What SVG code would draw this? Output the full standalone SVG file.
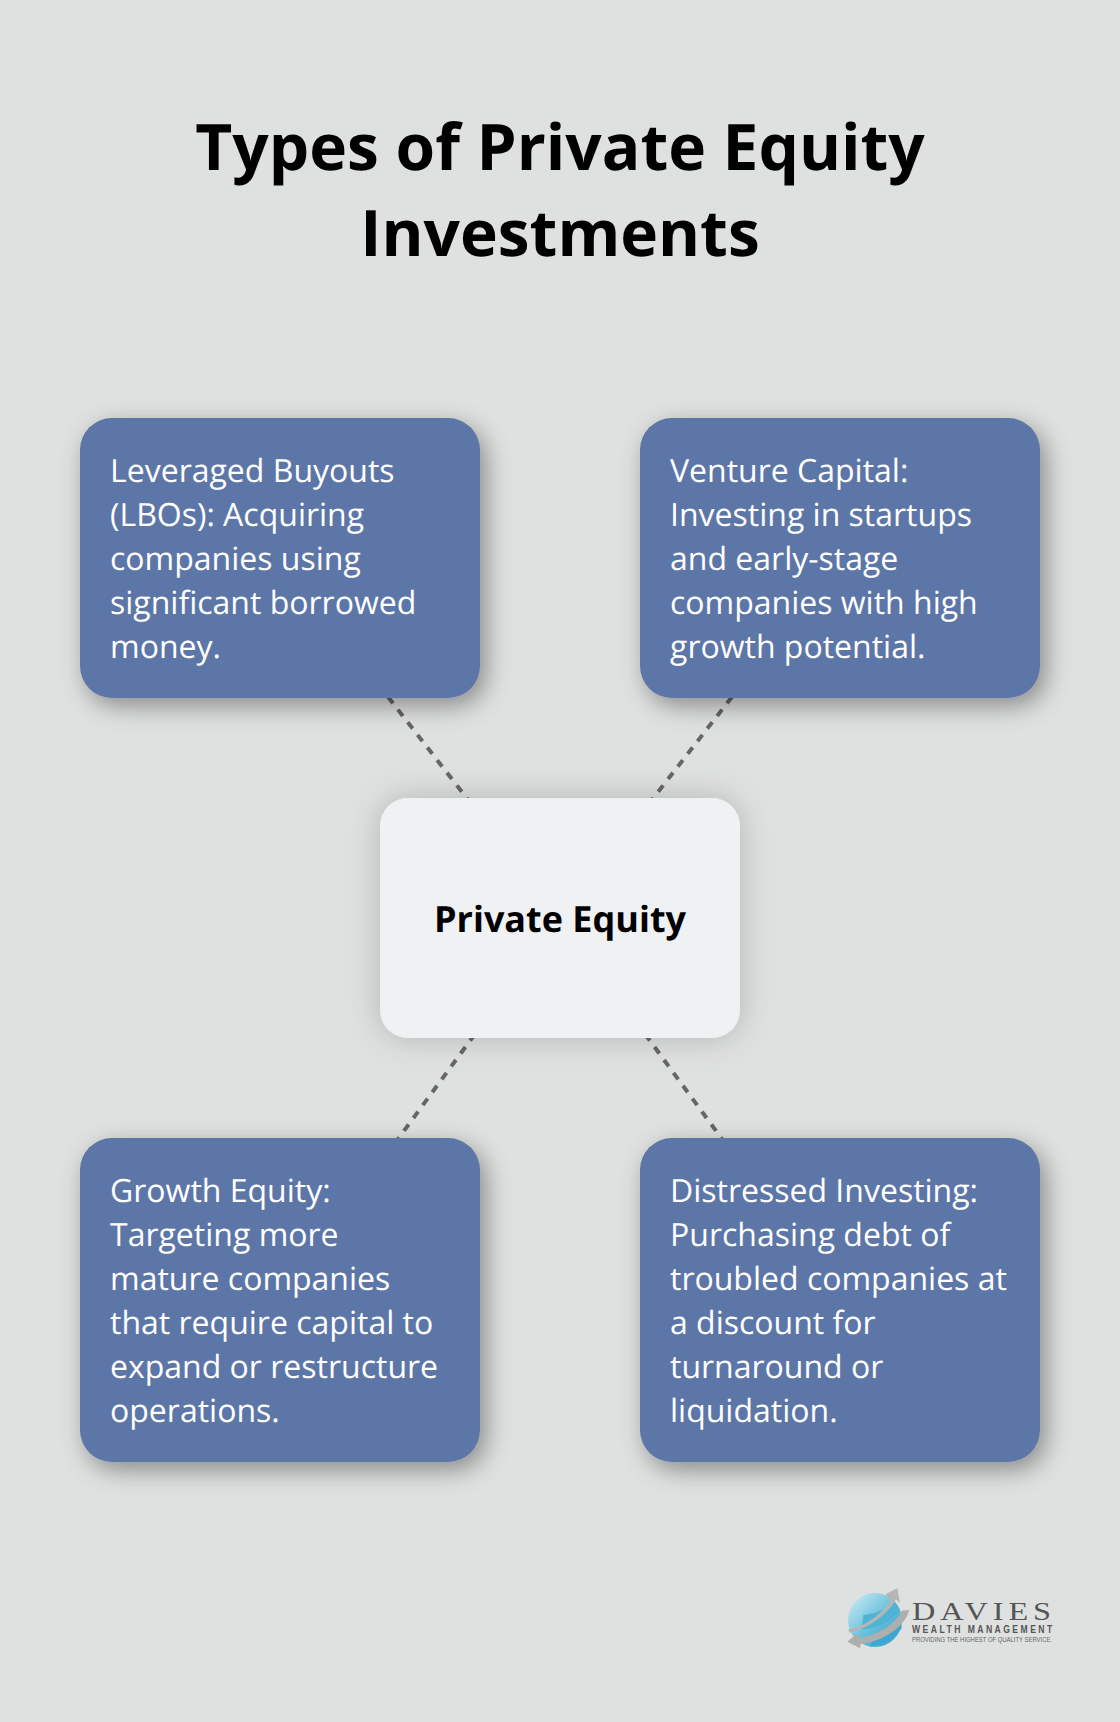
<svg xmlns="http://www.w3.org/2000/svg" width="1120" height="1722" viewBox="0 0 1120 1722">
<defs>
<style>
.t{font-family:"Open Sans","Noto Sans",sans-serif;text-rendering:geometricPrecision}
.title{font-size:64px;font-weight:700;fill:#000;text-anchor:middle}
.body{font-size:32px;fill:#fff}
.blue{fill:#5d76a8;filter:url(#s1)}
.conn{stroke:#666;stroke-width:4;stroke-dasharray:8 8;fill:none}
</style>
<filter id="s1" x="-20%" y="-20%" width="145%" height="150%"><feDropShadow dx="6" dy="8" stdDeviation="12" flood-color="#000" flood-opacity=".38"/></filter>
<filter id="s2" x="-25%" y="-25%" width="150%" height="150%"><feDropShadow dx="0" dy="0" stdDeviation="16" flood-color="#000" flood-opacity=".2"/></filter>
<linearGradient id="globe" x1="0" y1="0" x2="1" y2="1"><stop offset="0" stop-color="#d5eef5"/><stop offset=".5" stop-color="#6cc2de"/><stop offset="1" stop-color="#2f9cc6"/></linearGradient>
</defs>
<rect width="1120" height="1722" fill="#dfe1e0"/>
<g id="title" class="t title"><text x="560" y="170">Types of Private Equity</text><text x="560" y="256">Investments</text></g>
<g id="connectors">
<line class="conn" x1="560" y1="918" x2="280" y2="558"/>
<line class="conn" x1="560" y1="918" x2="840" y2="558"/>
<line class="conn" x1="560" y1="918" x2="280" y2="1300"/>
<line class="conn" x1="560" y1="918" x2="840" y2="1300"/>
</g>
<g id="node-lbo"><rect class="blue" x="80" y="418" width="400" height="280" rx="32"/>
<text class="t body"><tspan x="110" y="482">Leveraged Buyouts</tspan><tspan x="110" y="526">(LBOs): Acquiring</tspan><tspan x="110" y="570">companies using</tspan><tspan x="110" y="614">significant borrowed</tspan><tspan x="110" y="658">money.</tspan></text></g>
<g id="node-vc"><rect class="blue" x="640" y="418" width="400" height="280" rx="32"/>
<text class="t body"><tspan x="670" y="482">Venture Capital:</tspan><tspan x="670" y="526">Investing in startups</tspan><tspan x="670" y="570">and early-stage</tspan><tspan x="670" y="614">companies with high</tspan><tspan x="670" y="658">growth potential.</tspan></text></g>
<g id="node-center"><rect x="380" y="798" width="360" height="240" rx="28" fill="#eff1f3" filter="url(#s2)"/>
<text class="t" x="560" y="932" font-size="36" font-weight="700" fill="#000" text-anchor="middle">Private Equity</text></g>
<g id="node-growth"><rect class="blue" x="80" y="1138" width="400" height="324" rx="32"/>
<text class="t body"><tspan x="110" y="1202">Growth Equity:</tspan><tspan x="110" y="1246">Targeting more</tspan><tspan x="110" y="1290">mature companies</tspan><tspan x="110" y="1334">that require capital to</tspan><tspan x="110" y="1378">expand or restructure</tspan><tspan x="110" y="1422">operations.</tspan></text></g>
<g id="node-distressed"><rect class="blue" x="640" y="1138" width="400" height="324" rx="32"/>
<text class="t body"><tspan x="670" y="1202">Distressed Investing:</tspan><tspan x="670" y="1246">Purchasing debt of</tspan><tspan x="670" y="1290">troubled companies at</tspan><tspan x="670" y="1334">a discount for</tspan><tspan x="670" y="1378">turnaround or</tspan><tspan x="670" y="1422">liquidation.</tspan></text></g>
<g id="logo">
<g transform="translate(820 1570) scale(.3333)">
<circle cx="165" cy="150" r="81" fill="url(#globe)"/>
<path d="M165 195C195 185 225 160 240 130L245 175C225 205 190 225 150 230Z" fill="#3ba6cf"/>
<path d="M130 135C170 130 205 115 225 95L240 120C215 155 170 175 125 178Z" fill="#4fb3d6"/>
<path d="M85 178C130 172 190 130 210 92L197 72L232 55L240 100L228 88C205 130 150 175 88 188Z" fill="#b4b6b6"/>
<path d="M82 215L112 190L118 205C170 195 225 165 245 122L268 120C255 170 190 215 122 222L120 235Z" fill="#adafaf"/>
</g>
<text x="912" y="1620" font-family="Liberation Serif,serif" font-size="26" letter-spacing="4" fill="#555" textLength="144" lengthAdjust="spacingAndGlyphs">DAVIES</text>
<text transform="translate(912 1633) scale(.75 1)" font-family="Liberation Sans,sans-serif" font-size="11.5" font-weight="700" fill="#555" textLength="187" lengthAdjust="spacing">WEALTH MANAGEMENT</text>
<text x="912" y="1642" font-family="Liberation Sans,sans-serif" font-size="6.5" fill="#666" textLength="140" lengthAdjust="spacingAndGlyphs">PROVIDING THE HIGHEST OF QUALITY SERVICE.</text>
</g>
</svg>
